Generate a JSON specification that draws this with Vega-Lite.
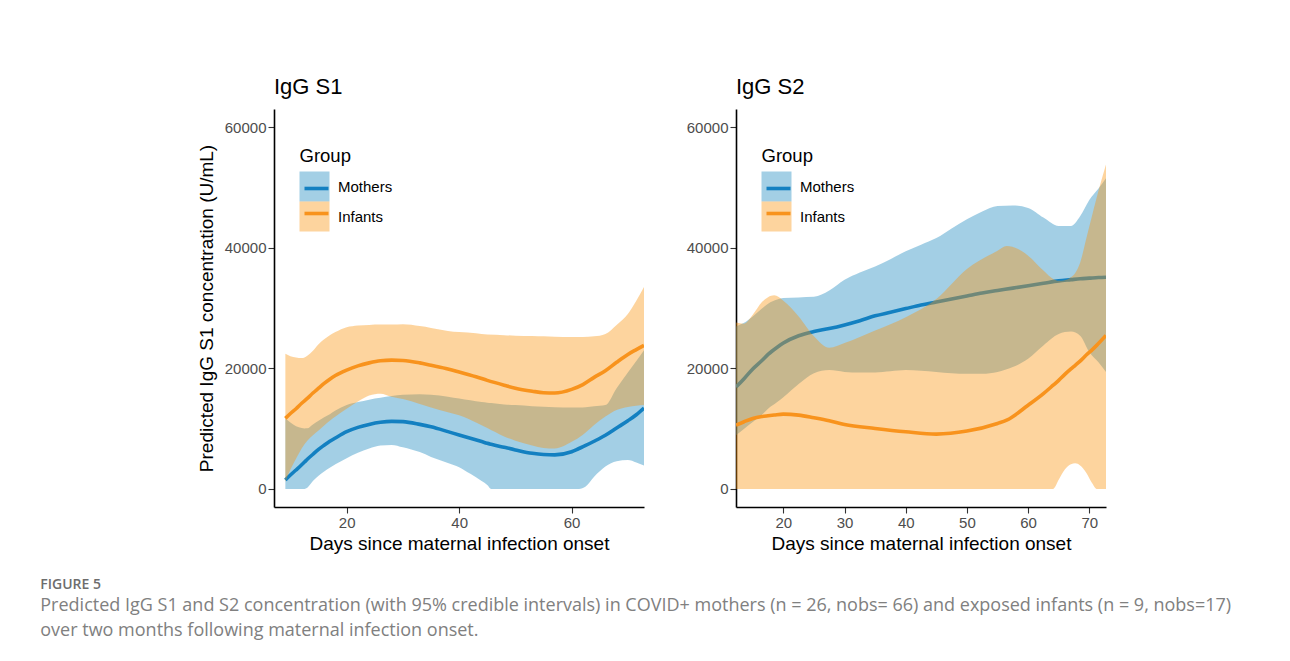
{
  "$schema": "https://vega.github.io/schema/vega-lite/v6.json",
  "background": "white",
  "padding": {"left": 40, "top": 76, "right": 0, "bottom": 12},
  "title": {
    "text": "FIGURE 5",
    "subtitle": ["Predicted IgG S1 and S2 concentration (with 95% credible intervals) in COVID+ mothers (n = 26, nobs= 66) and exposed infants (n = 9, nobs=17)", "over two months following maternal infection onset."],
    "orient": "bottom", "anchor": "start", "frame": "bounds",
    "font": "Open Sans", "fontSize": 14, "fontWeight": 600, "color": "#6D6D6D",
    "subtitleFont": "Open Sans", "subtitleFontSize": 18, "subtitleColor": "#808080", "subtitleLineHeight": 25, "subtitlePadding": 5,
    "offset": 25, "dx": -157
  },
  "datasets": {
    "curves": [
      {"panel":"S1","group":"Mothers","day":9.1,"lo":0,"mid":1480,"hi":11700},
      {"panel":"S1","group":"Mothers","day":10,"lo":0,"mid":2300,"hi":11000},
      {"panel":"S1","group":"Mothers","day":11,"lo":0,"mid":3140,"hi":10400},
      {"panel":"S1","group":"Mothers","day":12,"lo":0,"mid":4000,"hi":10100},
      {"panel":"S1","group":"Mothers","day":12.5,"lo":0,"mid":4450,"hi":10030},
      {"panel":"S1","group":"Mothers","day":13,"lo":200,"mid":4910,"hi":10050},
      {"panel":"S1","group":"Mothers","day":14,"lo":1300,"mid":5750,"hi":10700},
      {"panel":"S1","group":"Mothers","day":15,"lo":2200,"mid":6560,"hi":11300},
      {"panel":"S1","group":"Mothers","day":16,"lo":2900,"mid":7250,"hi":11900},
      {"panel":"S1","group":"Mothers","day":17,"lo":3500,"mid":7900,"hi":12400},
      {"panel":"S1","group":"Mothers","day":18,"lo":4100,"mid":8450,"hi":13000},
      {"panel":"S1","group":"Mothers","day":20,"lo":5100,"mid":9480,"hi":13900},
      {"panel":"S1","group":"Mothers","day":22,"lo":6000,"mid":10200,"hi":14400},
      {"panel":"S1","group":"Mothers","day":24,"lo":6700,"mid":10700,"hi":14800},
      {"panel":"S1","group":"Mothers","day":26,"lo":7200,"mid":11050,"hi":15100},
      {"panel":"S1","group":"Mothers","day":28,"lo":7300,"mid":11200,"hi":15400},
      {"panel":"S1","group":"Mothers","day":30,"lo":6900,"mid":11150,"hi":15600},
      {"panel":"S1","group":"Mothers","day":33,"lo":6100,"mid":10700,"hi":15700},
      {"panel":"S1","group":"Mothers","day":35,"lo":5300,"mid":10300,"hi":15600},
      {"panel":"S1","group":"Mothers","day":38,"lo":4300,"mid":9500,"hi":15300},
      {"panel":"S1","group":"Mothers","day":40,"lo":3600,"mid":8940,"hi":15000},
      {"panel":"S1","group":"Mothers","day":42,"lo":2500,"mid":8400,"hi":14700},
      {"panel":"S1","group":"Mothers","day":44,"lo":1300,"mid":7850,"hi":14400},
      {"panel":"S1","group":"Mothers","day":45,"lo":650,"mid":7570,"hi":14300},
      {"panel":"S1","group":"Mothers","day":45.7,"lo":0,"mid":7400,"hi":14230},
      {"panel":"S1","group":"Mothers","day":48,"lo":0,"mid":6900,"hi":14000},
      {"panel":"S1","group":"Mothers","day":50,"lo":0,"mid":6470,"hi":13900},
      {"panel":"S1","group":"Mothers","day":53,"lo":0,"mid":5900,"hi":13700},
      {"panel":"S1","group":"Mothers","day":55,"lo":0,"mid":5700,"hi":13620},
      {"panel":"S1","group":"Mothers","day":57,"lo":0,"mid":5650,"hi":13550},
      {"panel":"S1","group":"Mothers","day":60,"lo":0,"mid":6170,"hi":13500},
      {"panel":"S1","group":"Mothers","day":61.3,"lo":0,"mid":6700,"hi":13500},
      {"panel":"S1","group":"Mothers","day":62.5,"lo":400,"mid":7200,"hi":13550},
      {"panel":"S1","group":"Mothers","day":64,"lo":2000,"mid":7900,"hi":13700},
      {"panel":"S1","group":"Mothers","day":66,"lo":3700,"mid":8900,"hi":13900},
      {"panel":"S1","group":"Mothers","day":68,"lo":4600,"mid":10100,"hi":16700},
      {"panel":"S1","group":"Mothers","day":70,"lo":4800,"mid":11300,"hi":19300},
      {"panel":"S1","group":"Mothers","day":71.5,"lo":4400,"mid":12300,"hi":21200},
      {"panel":"S1","group":"Mothers","day":72.87,"lo":3900,"mid":13400,"hi":23000},

      {"panel":"S1","group":"Infants","day":9.1,"lo":1200,"mid":11700,"hi":22400},
      {"panel":"S1","group":"Infants","day":10,"lo":3200,"mid":12500,"hi":22000},
      {"panel":"S1","group":"Infants","day":11,"lo":5000,"mid":13300,"hi":21800},
      {"panel":"S1","group":"Infants","day":12,"lo":6700,"mid":14200,"hi":21700},
      {"panel":"S1","group":"Infants","day":13,"lo":8000,"mid":15000,"hi":22100},
      {"panel":"S1","group":"Infants","day":14,"lo":8900,"mid":15900,"hi":22900},
      {"panel":"S1","group":"Infants","day":15,"lo":9700,"mid":16700,"hi":24000},
      {"panel":"S1","group":"Infants","day":16,"lo":10500,"mid":17500,"hi":24800},
      {"panel":"S1","group":"Infants","day":17,"lo":11300,"mid":18200,"hi":25500},
      {"panel":"S1","group":"Infants","day":18,"lo":12000,"mid":18800,"hi":26000},
      {"panel":"S1","group":"Infants","day":20,"lo":13300,"mid":19700,"hi":26800},
      {"panel":"S1","group":"Infants","day":22,"lo":14500,"mid":20400,"hi":27100},
      {"panel":"S1","group":"Infants","day":24,"lo":15500,"mid":20900,"hi":27200},
      {"panel":"S1","group":"Infants","day":26,"lo":15800,"mid":21250,"hi":27250},
      {"panel":"S1","group":"Infants","day":28,"lo":15300,"mid":21350,"hi":27250},
      {"panel":"S1","group":"Infants","day":30,"lo":14900,"mid":21300,"hi":27300},
      {"panel":"S1","group":"Infants","day":33,"lo":14100,"mid":20900,"hi":27000},
      {"panel":"S1","group":"Infants","day":35,"lo":13500,"mid":20500,"hi":26700},
      {"panel":"S1","group":"Infants","day":38,"lo":12700,"mid":19900,"hi":26200},
      {"panel":"S1","group":"Infants","day":40,"lo":12200,"mid":19400,"hi":26000},
      {"panel":"S1","group":"Infants","day":43,"lo":11000,"mid":18600,"hi":25800},
      {"panel":"S1","group":"Infants","day":45,"lo":10100,"mid":18000,"hi":25600},
      {"panel":"S1","group":"Infants","day":48,"lo":8700,"mid":17200,"hi":25500},
      {"panel":"S1","group":"Infants","day":50,"lo":8000,"mid":16700,"hi":25400},
      {"panel":"S1","group":"Infants","day":53,"lo":7200,"mid":16200,"hi":25350},
      {"panel":"S1","group":"Infants","day":55,"lo":6800,"mid":15950,"hi":25300},
      {"panel":"S1","group":"Infants","day":57,"lo":6700,"mid":15900,"hi":25250},
      {"panel":"S1","group":"Infants","day":60,"lo":7800,"mid":16500,"hi":25200},
      {"panel":"S1","group":"Infants","day":62,"lo":9000,"mid":17300,"hi":25200},
      {"panel":"S1","group":"Infants","day":64,"lo":10600,"mid":18500,"hi":25300},
      {"panel":"S1","group":"Infants","day":66,"lo":12000,"mid":19600,"hi":25700},
      {"panel":"S1","group":"Infants","day":68,"lo":13100,"mid":21000,"hi":27200},
      {"panel":"S1","group":"Infants","day":70,"lo":13600,"mid":22300,"hi":29000},
      {"panel":"S1","group":"Infants","day":71.5,"lo":13800,"mid":23100,"hi":31200},
      {"panel":"S1","group":"Infants","day":72.87,"lo":13900,"mid":23800,"hi":33500},

      {"panel":"S2","group":"Mothers","day":12.26,"lo":8900,"mid":16900,"hi":26950},
      {"panel":"S2","group":"Mothers","day":13.5,"lo":9900,"mid":18200,"hi":27500},
      {"panel":"S2","group":"Mothers","day":15,"lo":11100,"mid":19900,"hi":28600},
      {"panel":"S2","group":"Mothers","day":16.5,"lo":12300,"mid":21300,"hi":29900},
      {"panel":"S2","group":"Mothers","day":17.5,"lo":13300,"mid":22300,"hi":30700},
      {"panel":"S2","group":"Mothers","day":19,"lo":14400,"mid":23500,"hi":31400},
      {"panel":"S2","group":"Mothers","day":20,"lo":15200,"mid":24200,"hi":31650},
      {"panel":"S2","group":"Mothers","day":22.5,"lo":17400,"mid":25400,"hi":31750},
      {"panel":"S2","group":"Mothers","day":25,"lo":19200,"mid":26100,"hi":31850},
      {"panel":"S2","group":"Mothers","day":27.5,"lo":19700,"mid":26600,"hi":32900},
      {"panel":"S2","group":"Mothers","day":30,"lo":19400,"mid":27200,"hi":34700},
      {"panel":"S2","group":"Mothers","day":32.5,"lo":19300,"mid":27900,"hi":35900},
      {"panel":"S2","group":"Mothers","day":35,"lo":19300,"mid":28700,"hi":36900},
      {"panel":"S2","group":"Mothers","day":37.5,"lo":19500,"mid":29300,"hi":38100},
      {"panel":"S2","group":"Mothers","day":40,"lo":19700,"mid":29900,"hi":39400},
      {"panel":"S2","group":"Mothers","day":42.5,"lo":19600,"mid":30500,"hi":40500},
      {"panel":"S2","group":"Mothers","day":45,"lo":19400,"mid":31000,"hi":41600},
      {"panel":"S2","group":"Mothers","day":47.5,"lo":19200,"mid":31500,"hi":43200},
      {"panel":"S2","group":"Mothers","day":50,"lo":19100,"mid":32000,"hi":44700},
      {"panel":"S2","group":"Mothers","day":52.5,"lo":19100,"mid":32500,"hi":46000},
      {"panel":"S2","group":"Mothers","day":55,"lo":19400,"mid":32900,"hi":46900},
      {"panel":"S2","group":"Mothers","day":57.5,"lo":20200,"mid":33300,"hi":47000},
      {"panel":"S2","group":"Mothers","day":60,"lo":21600,"mid":33700,"hi":46600},
      {"panel":"S2","group":"Mothers","day":62.5,"lo":23800,"mid":34100,"hi":45000},
      {"panel":"S2","group":"Mothers","day":65,"lo":25700,"mid":34500,"hi":43600},
      {"panel":"S2","group":"Mothers","day":67,"lo":26100,"mid":34700,"hi":43600},
      {"panel":"S2","group":"Mothers","day":68.5,"lo":25400,"mid":34850,"hi":45200},
      {"panel":"S2","group":"Mothers","day":70,"lo":22700,"mid":34950,"hi":47900},
      {"panel":"S2","group":"Mothers","day":71.5,"lo":21000,"mid":35050,"hi":49800},
      {"panel":"S2","group":"Mothers","day":72.73,"lo":19400,"mid":35100,"hi":51500},

      {"panel":"S2","group":"Infants","day":12.26,"lo":0,"mid":10580,"hi":27600},
      {"panel":"S2","group":"Infants","day":13.5,"lo":0,"mid":11100,"hi":27400},
      {"panel":"S2","group":"Infants","day":15,"lo":0,"mid":11690,"hi":28900},
      {"panel":"S2","group":"Infants","day":16.5,"lo":0,"mid":12000,"hi":31000},
      {"panel":"S2","group":"Infants","day":17.5,"lo":0,"mid":12130,"hi":31800},
      {"panel":"S2","group":"Infants","day":18.5,"lo":0,"mid":12250,"hi":32100},
      {"panel":"S2","group":"Infants","day":20,"lo":0,"mid":12400,"hi":31200},
      {"panel":"S2","group":"Infants","day":22.5,"lo":0,"mid":12230,"hi":28600},
      {"panel":"S2","group":"Infants","day":25,"lo":0,"mid":11790,"hi":25300},
      {"panel":"S2","group":"Infants","day":27.5,"lo":0,"mid":11300,"hi":23400},
      {"panel":"S2","group":"Infants","day":30,"lo":0,"mid":10690,"hi":24200},
      {"panel":"S2","group":"Infants","day":35,"lo":0,"mid":10030,"hi":26270},
      {"panel":"S2","group":"Infants","day":40,"lo":0,"mid":9480,"hi":28480},
      {"panel":"S2","group":"Infants","day":45,"lo":0,"mid":9090,"hi":31510},
      {"panel":"S2","group":"Infants","day":50,"lo":0,"mid":9590,"hi":36470},
      {"panel":"S2","group":"Infants","day":55,"lo":0,"mid":10850,"hi":39500},
      {"panel":"S2","group":"Infants","day":56.5,"lo":0,"mid":11400,"hi":40300},
      {"panel":"S2","group":"Infants","day":60,"lo":0,"mid":13880,"hi":38680},
      {"panel":"S2","group":"Infants","day":62.5,"lo":0,"mid":15800,"hi":36200},
      {"panel":"S2","group":"Infants","day":64.1,"lo":0,"mid":17200,"hi":34800},
      {"panel":"S2","group":"Infants","day":65,"lo":1500,"mid":18000,"hi":34500},
      {"panel":"S2","group":"Infants","day":66,"lo":3200,"mid":19000,"hi":34600},
      {"panel":"S2","group":"Infants","day":67,"lo":4100,"mid":19900,"hi":35100},
      {"panel":"S2","group":"Infants","day":67.7,"lo":4250,"mid":20500,"hi":35800},
      {"panel":"S2","group":"Infants","day":68.5,"lo":3900,"mid":21200,"hi":37500},
      {"panel":"S2","group":"Infants","day":69.5,"lo":2700,"mid":22200,"hi":41500},
      {"panel":"S2","group":"Infants","day":70.5,"lo":900,"mid":23100,"hi":45500},
      {"panel":"S2","group":"Infants","day":71.2,"lo":0,"mid":23800,"hi":48300},
      {"panel":"S2","group":"Infants","day":72.73,"lo":0,"mid":25450,"hi":53800}
    ]
  },
  "data": {"name": "curves"},
  "spacing": 42,
  "hconcat": [
    {
      "width": 370, "height": 398,
      "title": {"text": "IgG S1", "frame": "group"},
      "transform": [{"filter": {"field": "panel", "equal": "S1"}}],
      "encoding": {
        "x": {"field": "day", "type": "quantitative", "scale": {"domain": [7.08, 72.87], "nice": false, "zero": false},
              "axis": {"values": [20, 40, 60], "title": "Days since maternal infection onset"}}
      },
      "layer": [
        {
          "transform": [{"filter": {"field": "group", "equal": "Mothers"}}],
          "mark": {"type": "area", "opacity": 0.4, "interpolate": "monotone", "clip": true},
          "encoding": {
            "y": {"field": "lo", "type": "quantitative", "scale": {"domain": [-3000, 63000], "nice": false, "zero": false},
                  "axis": {"values": [0, 20000, 40000, 60000], "format": "d", "title": "Predicted IgG S1 concentration (U/mL)"}},
            "y2": {"field": "hi"},
            "fill": {"field": "group", "type": "nominal", "scale": {"domain": ["Mothers", "Infants"], "range": ["#1987BE", "#FA940C"]},
                     "legend": {"orient": "none", "legendX": 25.5, "legendY": 37.5, "title": "Group", "symbolType": "square", "symbolSize": 900, "symbolOpacity": 0.4, "symbolStrokeWidth": 0, "labelColor": "black"}}
          }
        },
        {
          "transform": [{"filter": "datum.group == 'Mothers'"}],
          "mark": {"type": "line", "strokeWidth": 3.6, "interpolate": "monotone", "clip": true},
          "encoding": {
            "y": {"field": "mid", "type": "quantitative"},
            "stroke": {"field": "group", "type": "nominal", "sort": ["Mothers", "Infants"], "scale": {"range": ["#1380C1", "#F8931D"]},
                       "legend": {"orient": "none", "legendX": 25.5, "legendY": 37.5, "title": "Group", "symbolType": "M-0.8,0H0.8", "symbolSize": 900, "symbolStrokeWidth": 3.6, "symbolFillColor": "transparent", "labelColor": "transparent", "titleColor": "transparent", "zindex": 2}}
          }
        },
        {
          "transform": [{"filter": {"field": "group", "equal": "Infants"}}],
          "mark": {"type": "area", "opacity": 0.4, "interpolate": "monotone", "clip": true},
          "encoding": {
            "y": {"field": "lo", "type": "quantitative"},
            "y2": {"field": "hi"},
            "fill": {"field": "group", "type": "nominal"}
          }
        },
        {
          "transform": [{"filter": "datum.group == 'Infants'"}],
          "mark": {"type": "line", "strokeWidth": 3.6, "interpolate": "monotone", "clip": true},
          "encoding": {
            "y": {"field": "mid", "type": "quantitative"},
            "stroke": {"field": "group", "type": "nominal", "sort": ["Mothers", "Infants"]}
          }
        }
      ]
    },
    {
      "width": 370, "height": 398,
      "title": {"text": "IgG S2", "frame": "group"},
      "transform": [{"filter": {"field": "panel", "equal": "S2"}}],
      "encoding": {
        "x": {"field": "day", "type": "quantitative", "scale": {"domain": [12.26, 72.73], "nice": false, "zero": false},
              "axis": {"values": [20, 30, 40, 50, 60, 70], "title": "Days since maternal infection onset"}}
      },
      "layer": [
        {
          "transform": [{"filter": {"field": "group", "equal": "Mothers"}}],
          "mark": {"type": "area", "opacity": 0.4, "interpolate": "monotone", "clip": true},
          "encoding": {
            "y": {"field": "lo", "type": "quantitative", "scale": {"domain": [-3000, 63000], "nice": false, "zero": false},
                  "axis": {"values": [0, 20000, 40000, 60000], "format": "d", "title": null}},
            "y2": {"field": "hi"},
            "fill": {"field": "group", "type": "nominal", "scale": {"domain": ["Mothers", "Infants"], "range": ["#1987BE", "#FA940C"]},
                     "legend": {"orient": "none", "legendX": 25.5, "legendY": 37.5, "title": "Group", "symbolType": "square", "symbolSize": 900, "symbolOpacity": 0.4, "symbolStrokeWidth": 0, "labelColor": "black"}}
          }
        },
        {
          "transform": [{"filter": "datum.group == 'Mothers'"}],
          "mark": {"type": "line", "strokeWidth": 3.6, "interpolate": "monotone", "clip": true},
          "encoding": {
            "y": {"field": "mid", "type": "quantitative"},
            "stroke": {"field": "group", "type": "nominal", "sort": ["Mothers", "Infants"], "scale": {"range": ["#1380C1", "#F8931D"]},
                       "legend": {"orient": "none", "legendX": 25.5, "legendY": 37.5, "title": "Group", "symbolType": "M-0.8,0H0.8", "symbolSize": 900, "symbolStrokeWidth": 3.6, "symbolFillColor": "transparent", "labelColor": "transparent", "titleColor": "transparent", "zindex": 2}}
          }
        },
        {
          "transform": [{"filter": {"field": "group", "equal": "Infants"}}],
          "mark": {"type": "area", "opacity": 0.4, "interpolate": "monotone", "clip": true},
          "encoding": {
            "y": {"field": "lo", "type": "quantitative"},
            "y2": {"field": "hi"},
            "fill": {"field": "group", "type": "nominal"}
          }
        },
        {
          "transform": [{"filter": "datum.group == 'Infants'"}],
          "mark": {"type": "line", "strokeWidth": 3.6, "interpolate": "monotone", "clip": true},
          "encoding": {
            "y": {"field": "mid", "type": "quantitative"},
            "stroke": {"field": "group", "type": "nominal", "sort": ["Mothers", "Infants"]}
          }
        }
      ]
    }
  ],
  "resolve": {
    "scale": {"x": "independent", "y": "independent", "fill": "independent", "stroke": "independent"},
    "legend": {"fill": "independent", "stroke": "independent"}
  },
  "config": {
    "font": "Liberation Sans",
    "view": {"stroke": null},
    "title": {"anchor": "start", "fontSize": 22, "fontWeight": "normal", "font": "Liberation Sans", "color": "black", "offset": 10},
    "axis": {"grid": false, "domainColor": "black", "domainWidth": 1.6, "tickColor": "#333333", "tickSize": 6, "tickWidth": 1.1,
             "labelFont": "Liberation Sans", "labelFontSize": 15, "labelColor": "#4D4D4D", "labelPadding": 2,
             "titleFont": "Liberation Sans", "titleFontSize": 19, "titleFontWeight": "normal", "titleColor": "black"},
    "axisX": {"titlePadding": 4},
    "axisY": {"titlePadding": 8},
    "legend": {"titleFont": "Liberation Sans", "titleFontSize": 18.5, "titleFontWeight": "normal", "titlePadding": 6.5,
               "labelFont": "Liberation Sans", "labelFontSize": 15, "labelOffset": 8.5, "rowPadding": 0, "padding": 0}
  }
}
